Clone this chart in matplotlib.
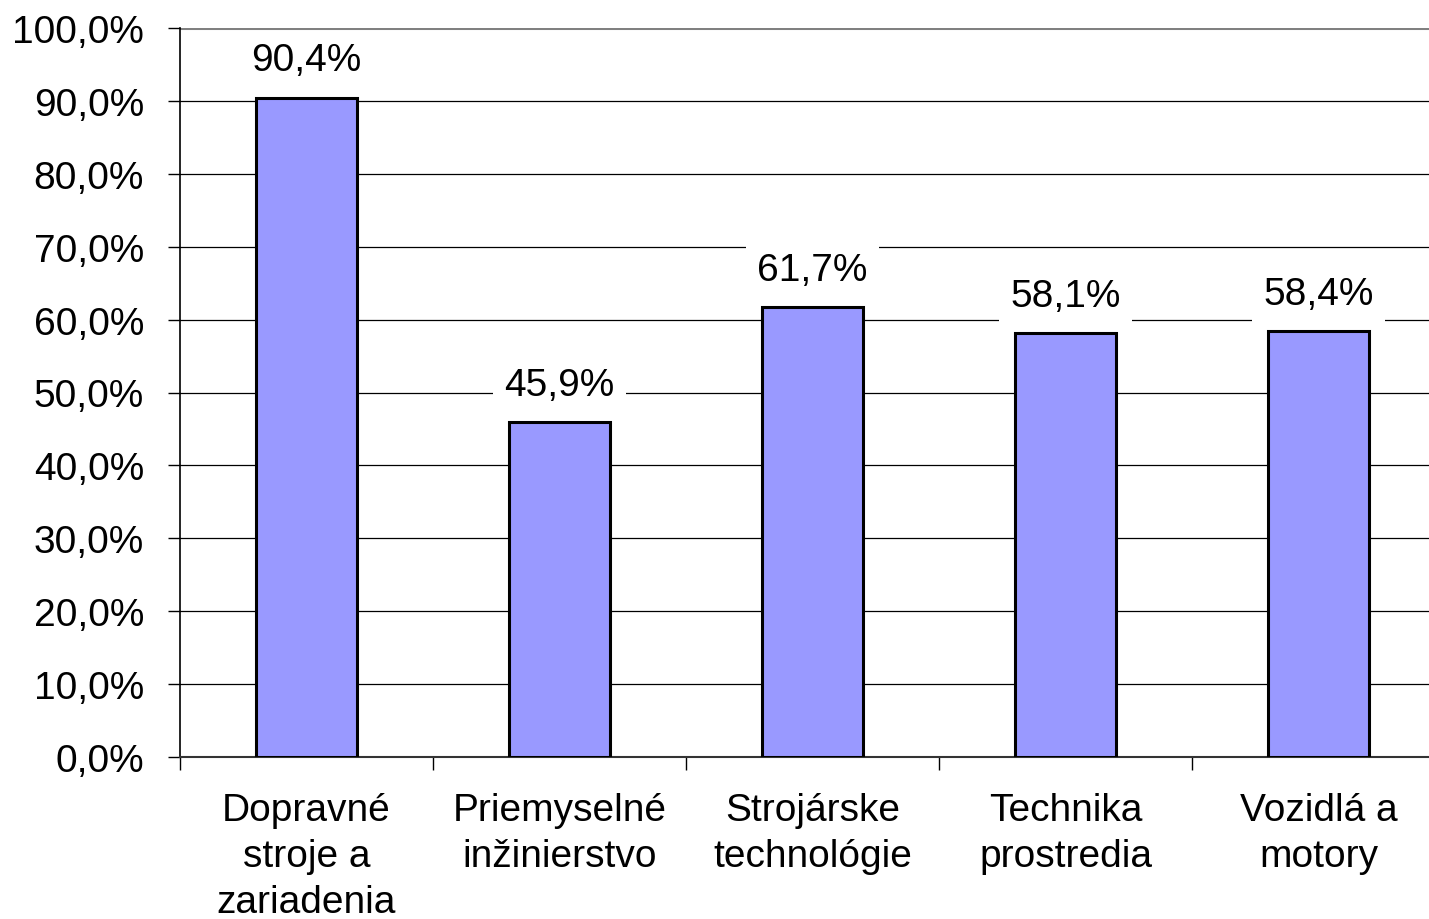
import matplotlib
matplotlib.use("Agg")
import matplotlib.pyplot as plt

categories = ["Dopravné\nstroje a\nzariadenia", "Priemyselné\ninžinierstvo", "Strojárske\ntechnológie", "Technika\nprostredia", "Vozidlá a\nmotory"]
values = [90.4, 45.9, 61.7, 58.1, 58.4]
yticks = [0, 10, 20, 30, 40, 50, 60, 70, 80, 90, 100]
ytick_labels = ["0,0%", "10,0%", "20,0%", "30,0%", "40,0%", "50,0%", "60,0%", "70,0%", "80,0%", "90,0%", "100,0%"]
value_labels = ["90,4%", "45,9%", "61,7%", "58,1%", "58,4%"]

plt.rcParams['font.family'] = ['Liberation Sans', 'DejaVu Sans']
dpi = 100
fig = plt.figure(figsize=(14.29, 9.2), dpi=dpi)
ax = fig.add_axes([180/1429, (920-758)/920, 1265/1429, 729/920])

x = list(range(len(values)))
ax.bar(x, values, width=0.4, color="#9999FF", edgecolor="black", linewidth=2.2, zorder=3)

ax.set_xlim(-0.5, len(values) - 0.5)
ax.set_ylim(0, 100)
ax.set_yticks(yticks)
ax.set_yticklabels(ytick_labels, fontsize=28)
for y in yticks[1:-1]:
    ax.axhline(y, color="black", linewidth=0.9, zorder=1)
ax.axhline(100, color="#808080", linewidth=2.2, zorder=1)

ax.set_xticks([i - 0.5 for i in range(len(values) + 1)])
ax.set_xticklabels([])
ax.set_xticks(x, minor=True)
ax.set_xticklabels(categories, minor=True, fontsize=28, linespacing=1.37)
ax.tick_params(axis='x', which='minor', length=0, pad=25)
ax.tick_params(axis='x', which='major', length=9, width=1, direction='out')
ax.tick_params(axis='y', length=9, width=1, direction='out', pad=17)

for s in ["top", "right"]:
    ax.spines[s].set_visible(False)
ax.spines["left"].set_linewidth(1.2)
ax.spines["bottom"].set_linewidth(1.5)
ax.spines["bottom"].set_color("#333333")

for xi, v, lab in zip(x, values, value_labels):
    ax.annotate(lab, (xi, v), xytext=(0, 27), textcoords="offset points",
                ha="center", va="center", fontsize=28, zorder=4,
                bbox=dict(boxstyle="square,pad=0.3", facecolor="white", edgecolor="none"))

fig.savefig("out.png", dpi=dpi)
